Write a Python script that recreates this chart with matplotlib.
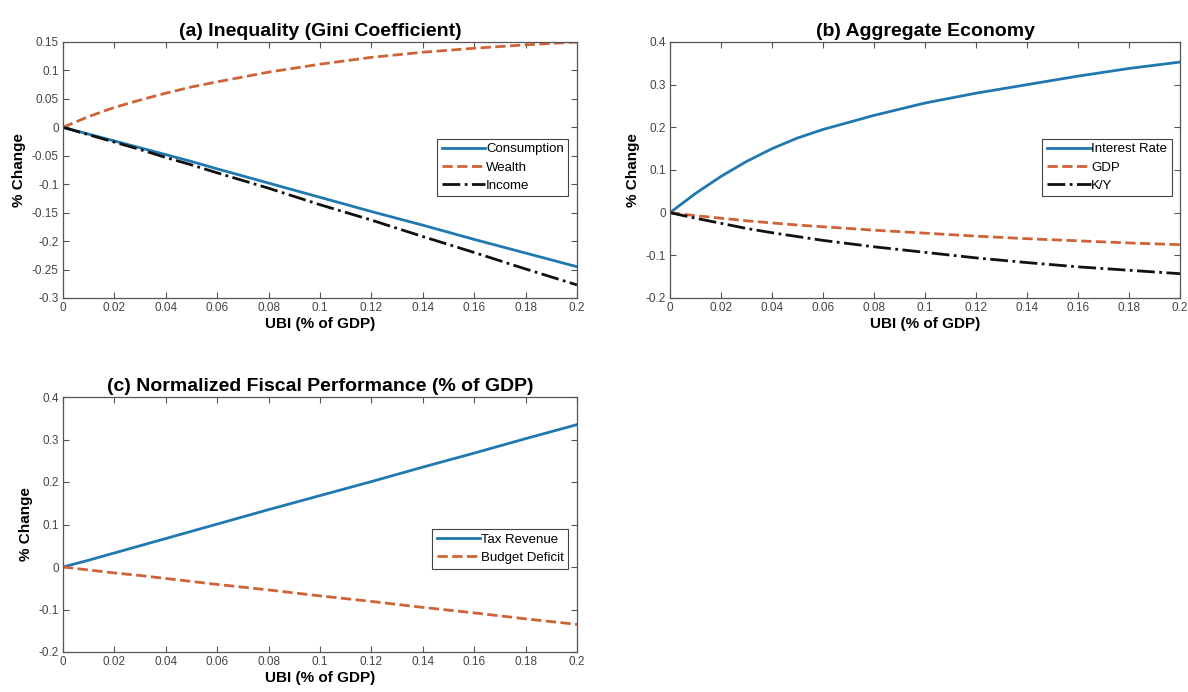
import matplotlib
matplotlib.use("Agg")
import matplotlib.pyplot as plt
import numpy as np

plt.rcParams['font.family'] = ['Liberation Sans', 'DejaVu Sans']

x = [0, 0.01, 0.02, 0.03, 0.04, 0.05, 0.06, 0.08, 0.10, 0.12, 0.14, 0.16, 0.18, 0.20]

# Panel (a)
consumption = [0, -0.012, -0.024, -0.036, -0.048, -0.060, -0.073, -0.098, -0.123, -0.148, -0.172, -0.197, -0.221, -0.245]
wealth = [0, 0.019, 0.035, 0.048, 0.060, 0.071, 0.080, 0.097, 0.111, 0.123, 0.132, 0.139, 0.145, 0.150]
income = [0, -0.013, -0.026, -0.039, -0.053, -0.066, -0.080, -0.107, -0.136, -0.163, -0.192, -0.220, -0.249, -0.277]

# Panel (b)
interest_rate = [0, 0.045, 0.085, 0.120, 0.150, 0.175, 0.195, 0.228, 0.257, 0.280, 0.300, 0.320, 0.338, 0.353]
gdp = [0, -0.007, -0.013, -0.019, -0.024, -0.029, -0.033, -0.041, -0.048, -0.055, -0.061, -0.066, -0.071, -0.075]
k_y = [0, -0.013, -0.025, -0.037, -0.047, -0.056, -0.065, -0.080, -0.093, -0.106, -0.117, -0.127, -0.135, -0.143]

# Panel (c)
tax_revenue = [0, 0.016, 0.033, 0.050, 0.067, 0.084, 0.101, 0.135, 0.168, 0.201, 0.235, 0.268, 0.302, 0.335]
budget_deficit = [0, -0.007, -0.014, -0.020, -0.027, -0.034, -0.041, -0.054, -0.068, -0.081, -0.095, -0.108, -0.122, -0.135]

xticks = [0, 0.02, 0.04, 0.06, 0.08, 0.1, 0.12, 0.14, 0.16, 0.18, 0.2]
xticklabels = ['0', '0.02', '0.04', '0.06', '0.08', '0.1', '0.12', '0.14', '0.16', '0.18', '0.2']

BLUE = '#1f78b0'
ORANGE = '#cf6236'
BLACK = '#111111'
GRAY = '#555555'

W, H = 1188, 692
fig = plt.figure(figsize=(W / 100, H / 100), dpi=100)


def add_ax(l, r, t, b):
    return fig.add_axes([l / W, 1 - b / H, (r - l) / W, (b - t) / H])


def style(ax, title, yticks, yticklabels, ylim):
    ax.set_xlim(0, 0.2)
    ax.set_ylim(*ylim)
    ax.set_xticks(xticks)
    ax.set_xticklabels(xticklabels)
    ax.set_yticks(yticks)
    ax.set_yticklabels(yticklabels)
    ax.tick_params(direction='in', top=True, right=True, length=4, width=0.8,
                   colors=GRAY, labelsize=8.5, labelcolor='#444444', pad=3)
    for s in ax.spines.values():
        s.set_color(GRAY)
        s.set_linewidth(0.9)
    ax.set_title(title, fontsize=14, fontweight='bold', pad=4)
    ax.set_xlabel('UBI (% of GDP)', fontsize=11, fontweight='bold', labelpad=2)
    ax.set_ylabel('% Change', fontsize=11, fontweight='bold', labelpad=4)


def legend(ax, anchor):
    leg = ax.legend(loc='center right', bbox_to_anchor=anchor, fontsize=9.5,
                    fancybox=False, edgecolor='#444444', framealpha=1,
                    handlelength=3.3, handletextpad=0.05, borderpad=0.35,
                    labelspacing=0.45, borderaxespad=0)
    leg.get_frame().set_linewidth(0.8)


# (a)
ax = add_ax(63, 577, 42, 298)
ax.plot(x, consumption, color=BLUE, lw=2, ls='-', label='Consumption')
ax.plot(x, wealth, color=ORANGE, lw=2, ls='--', label='Wealth')
ax.plot(x, income, color=BLACK, lw=2, ls='-.', label='Income')
style(ax, '(a) Inequality (Gini Coefficient)',
      [-0.3, -0.25, -0.2, -0.15, -0.1, -0.05, 0, 0.05, 0.1, 0.15],
      ['-0.3', '-0.25', '-0.2', '-0.15', '-0.1', '-0.05', '0', '0.05', '0.1', '0.15'],
      (-0.3, 0.15))
legend(ax, (0.983, 0.51))

# (b)
ax = add_ax(670, 1180, 42, 298)
ax.plot(x, interest_rate, color=BLUE, lw=2, ls='-', label='Interest Rate')
ax.plot(x, gdp, color=ORANGE, lw=2, ls='--', label='GDP')
ax.plot(x, k_y, color=BLACK, lw=2, ls='-.', label='K/Y')
style(ax, '(b) Aggregate Economy',
      [-0.2, -0.1, 0, 0.1, 0.2, 0.3, 0.4],
      ['-0.2', '-0.1', '0', '0.1', '0.2', '0.3', '0.4'],
      (-0.2, 0.4))
legend(ax, (0.984, 0.51))

# (c)
ax = add_ax(63, 577, 397, 652)
ax.plot(x, tax_revenue, color=BLUE, lw=2, ls='-', label='Tax Revenue')
ax.plot(x, budget_deficit, color=ORANGE, lw=2, ls='--', label='Budget Deficit')
style(ax, '(c) Normalized Fiscal Performance (% of GDP)',
      [-0.2, -0.1, 0, 0.1, 0.2, 0.3, 0.4],
      ['-0.2', '-0.1', '0', '0.1', '0.2', '0.3', '0.4'],
      (-0.2, 0.4))
legend(ax, (0.983, 0.405))

fig.savefig('out.png', dpi=100)
